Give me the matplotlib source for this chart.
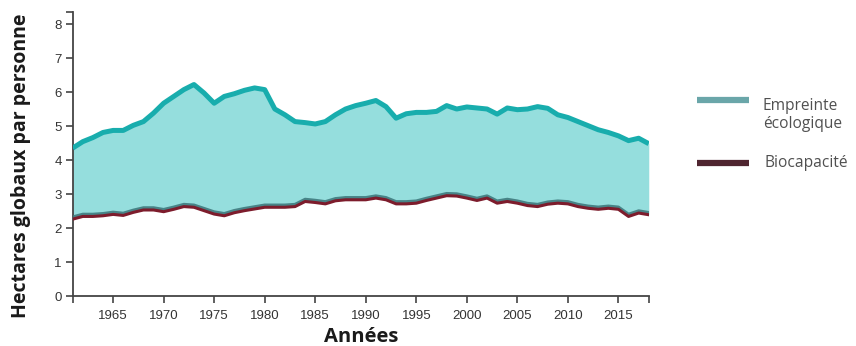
import matplotlib
matplotlib.use("Agg")
import matplotlib.pyplot as plt
import matplotlib.patheffects as pe
from matplotlib.lines import Line2D
import numpy as np

years = np.arange(1961, 2019)

# Empreinte écologique (hectares globaux par personne)
footprint = [
    4.35, 4.54, 4.66, 4.81, 4.87, 4.87, 5.02, 5.13, 5.38, 5.67,
    5.87, 6.07, 6.22, 5.97, 5.67, 5.87, 5.95, 6.05, 6.12, 6.07,
    5.50, 5.33, 5.13, 5.10, 5.06, 5.13, 5.33, 5.50, 5.60, 5.67,
    5.75, 5.57, 5.23, 5.36, 5.40, 5.40, 5.43, 5.60, 5.50, 5.56,
    5.53, 5.50, 5.35, 5.53, 5.48, 5.50, 5.57, 5.52, 5.33, 5.25,
    5.13, 5.01, 4.89, 4.81, 4.71, 4.57, 4.64, 4.48,
]

# Biocapacité (hectares globaux par personne)
biocapacity = [
    2.26, 2.34, 2.34, 2.36, 2.40, 2.37, 2.46, 2.53, 2.53, 2.48,
    2.55, 2.63, 2.61, 2.51, 2.41, 2.36, 2.45, 2.51, 2.56, 2.61,
    2.61, 2.61, 2.63, 2.78, 2.75, 2.71, 2.80, 2.83, 2.83, 2.83,
    2.88, 2.83, 2.71, 2.71, 2.73, 2.81, 2.88, 2.95, 2.94, 2.88,
    2.81, 2.88, 2.73, 2.78, 2.73, 2.66, 2.63, 2.70, 2.73, 2.71,
    2.63, 2.58, 2.55, 2.58, 2.55, 2.34, 2.44, 2.39,
]

xticks = [1965, 1970, 1975, 1980, 1985, 1990, 1995, 2000, 2005, 2010, 2015]
yticks = [0, 1, 2, 3, 4, 5, 6, 7, 8]

teal = "#18adad"
fill_color = "#95dedd"
maroon = "#7d1c2c"

fig = plt.figure(figsize=(8.56, 3.46), dpi=100)
ax = fig.add_axes([0.0849, 0.1445, 0.673, 0.8205])

ax.fill_between(years, biocapacity, footprint, color=fill_color, lw=0)
ax.plot(years, footprint, color=teal, lw=3.6, solid_joinstyle="round",
        solid_capstyle="butt", zorder=3)
ax.plot(years, biocapacity, color=maroon, lw=2.2, solid_joinstyle="round",
        zorder=3,
        path_effects=[pe.SimpleLineShadow(offset=(0, 1.6), shadow_color="#3f7a7e", alpha=0.9),
                      pe.Normal()])

ax.set_xlim(1961, 2018)
ax.set_ylim(0, 8.35)

for side in ("top", "right"):
    ax.spines[side].set_visible(False)
for side in ("left", "bottom"):
    ax.spines[side].set_color("#444444")
    ax.spines[side].set_linewidth(1.3)

ax.set_xticks(xticks)
ax.set_yticks(yticks)
ax.set_xticks([1961, 2018], minor=True)
ax.set_yticks([8.35], minor=True)
ax.tick_params(axis="both", which="both", direction="out", color="#444444",
               width=1.2, labelcolor="#333333", labelsize=9.5)
ax.tick_params(axis="both", which="both", length=5)
ax.tick_params(axis="x", pad=5)
ax.tick_params(axis="y", pad=3)
for lab in ax.get_xticklabels() + ax.get_yticklabels():
    lab.set_family("Liberation Sans")

fig.text(0.024, 0.52, "Hectares globaux par personne", rotation=90,
         ha="center", va="center", fontsize=14, fontweight="bold",
         family="Open Sans", color="#1a1a1a")
fig.text(0.4215, 1 - 342 / 346, "Années", ha="center", va="baseline",
         fontsize=14.5, fontweight="bold", family="Open Sans", color="#1a1a1a")

# legend drawn by hand on the right side
fig.add_artist(Line2D([697 / 856, 749 / 856], [1 - 100 / 346] * 2,
                      color="#6aa6a9", lw=4.5, solid_capstyle="butt"))
fig.add_artist(Line2D([697 / 856, 749 / 856], [1 - 163 / 346] * 2,
                      color="#4f2530", lw=4.5, solid_capstyle="butt"))
fig.text(763 / 856, 1 - 115 / 346, "Empreinte\nécologique", ha="left",
         va="center", fontsize=11.2, family="Open Sans",
         color="#505050", linespacing=1.15)
fig.text(765 / 856, 1 - 163 / 346, "Biocapacité", ha="left", va="center",
         fontsize=11.2, family="Open Sans", color="#505050")

fig.savefig("out.png", dpi=100)
